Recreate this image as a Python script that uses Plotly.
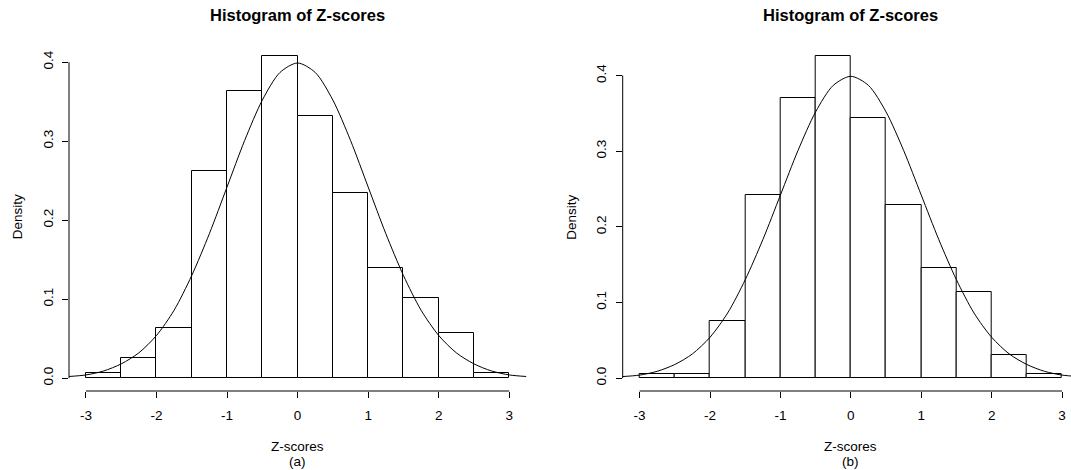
import plotly.graph_objects as go

# ---- data ----
bin_edges = [-3.0, -2.5, -2.0, -1.5, -1.0, -0.5, 0.0, 0.5, 1.0, 1.5, 2.0, 2.5, 3.0]
density_a = [0.006, 0.025, 0.064, 0.262, 0.363, 0.408, 0.332, 0.235, 0.140, 0.102, 0.057, 0.006]
density_b = [0.006, 0.006, 0.076, 0.242, 0.370, 0.426, 0.344, 0.229, 0.146, 0.114, 0.031, 0.006]

curve_x = [-3.25, -3.0, -2.75, -2.5, -2.25, -2.0, -1.75, -1.5, -1.25, -1.0, -0.75, -0.5, -0.25, 0.0,
           0.25, 0.5, 0.75, 1.0, 1.25, 1.5, 1.75, 2.0, 2.25, 2.5, 2.75, 3.0, 3.25]
curve_y = [0.002, 0.004, 0.009, 0.018, 0.032, 0.054, 0.086, 0.130, 0.183, 0.242, 0.301, 0.352, 0.387, 0.399,
           0.387, 0.352, 0.301, 0.242, 0.183, 0.130, 0.086, 0.054, 0.032, 0.018, 0.009, 0.004, 0.002]

x_ticks = [-3, -2, -1, 0, 1, 2, 3]
y_ticks = [0.0, 0.1, 0.2, 0.3, 0.4]

title_text = "Histogram of Z-scores"
x_label = "Z-scores"
y_label = "Density"
panel_tags = ["(a)", "(b)"]

FONT = "Liberation Sans, Arial, Helvetica, sans-serif"
W, H = 1071, 470

centers = [(bin_edges[i] + bin_edges[i + 1]) / 2 for i in range(len(bin_edges) - 1)]
widths = [bin_edges[i + 1] - bin_edges[i] for i in range(len(bin_edges) - 1)]

fig = go.Figure()

panels = [
    dict(dens=density_a, xa="x", ya="y", tag=panel_tags[0]),
    dict(dens=density_b, xa="x2", ya="y2", tag=panel_tags[1]),
]

for p in panels:
    fig.add_trace(go.Bar(
        x=centers, y=p["dens"], width=widths,
        marker=dict(color="white", line=dict(color="black", width=1)),
        xaxis=p["xa"], yaxis=p["ya"], hoverinfo="skip",
    ))
    fig.add_trace(go.Scatter(
        x=curve_x, y=curve_y, mode="lines",
        line=dict(color="black", width=1, shape="spline", smoothing=0.8),
        xaxis=p["xa"], yaxis=p["ya"], hoverinfo="skip",
    ))

y_dom = [1 - 391 / H, 1 - 43 / H]
x_doms = [[69 / W, 526.2 / W], [622.7 / W, 1.0]]
x_ranges = [[-3.24, 3.24], [-3.24, 3.127]]

common_x = dict(tickvals=x_ticks, ticktext=[str(t) for t in x_ticks], ticks="outside", ticklen=6,
                tickcolor="black", tickwidth=1, showline=False, showgrid=False, zeroline=False,
                ticklabelstandoff=6,
                tickfont=dict(family=FONT, size=13.5, color="black"), fixedrange=True)
common_y = dict(tickvals=y_ticks, ticktext=[f"{t:.1f}" for t in y_ticks], ticks="outside", ticklen=6,
                tickcolor="black", tickwidth=1, showline=False, showgrid=False, zeroline=False,
                tickangle=-90, ticklabelstandoff=4,
                tickfont=dict(family=FONT, size=13.5, color="black"), fixedrange=True)

layout = dict(
    width=W, height=H, margin=dict(l=0, r=0, t=0, b=0),
    paper_bgcolor="white", plot_bgcolor="white", showlegend=False, bargap=0,
    font=dict(family=FONT, color="black"),
)
annotations = []
shapes = []
for i, p in enumerate(panels):
    xa_name = "xaxis" if i == 0 else "xaxis2"
    ya_name = "yaxis" if i == 0 else "yaxis2"
    dmax = max(p["dens"])
    layout[xa_name] = dict(common_x, domain=x_doms[i], range=x_ranges[i], anchor=p["ya"])
    layout[ya_name] = dict(common_y, domain=y_dom, range=[-0.04 * dmax, 1.04 * dmax], anchor=p["xa"])
    # R-style axis lines spanning only the tick range
    shapes.append(dict(type="line", xref=p["xa"], yref=p["ya"] + " domain",
                       x0=x_ticks[0], x1=x_ticks[-1], y0=0, y1=0,
                       line=dict(color="black", width=1)))
    shapes.append(dict(type="line", xref=p["xa"] + " domain", yref=p["ya"],
                       x0=0, x1=0, y0=y_ticks[0], y1=y_ticks[-1],
                       line=dict(color="black", width=1)))
    # title
    annotations.append(dict(text="<b>" + title_text + "</b>", xref=p["xa"], x=0, yref="paper",
                            y=1 - 15 / H, xanchor="center", yanchor="middle", showarrow=False,
                            font=dict(family=FONT, size=16.5, color="black")))
    annotations.append(dict(text=x_label, xref=p["xa"], x=0, yref="paper", y=1 - 446 / H,
                            xanchor="center", yanchor="middle", showarrow=False,
                            font=dict(family=FONT, size=13.5, color="black")))
    annotations.append(dict(text=p["tag"], xref=p["xa"], x=0, yref="paper", y=1 - 461 / H,
                            xanchor="center", yanchor="middle", showarrow=False,
                            font=dict(family=FONT, size=13.5, color="black")))
    ylab_x = 17.3 if i == 0 else 622.7 - 52
    annotations.append(dict(text=y_label, xref="paper", x=ylab_x / W, yref=p["ya"] + " domain", y=0.5,
                            xanchor="center", yanchor="middle", textangle=-90, showarrow=False,
                            font=dict(family=FONT, size=13.5, color="black")))

layout["annotations"] = annotations
layout["shapes"] = shapes
fig.update_layout(**layout)

fig.write_html("out.html")
